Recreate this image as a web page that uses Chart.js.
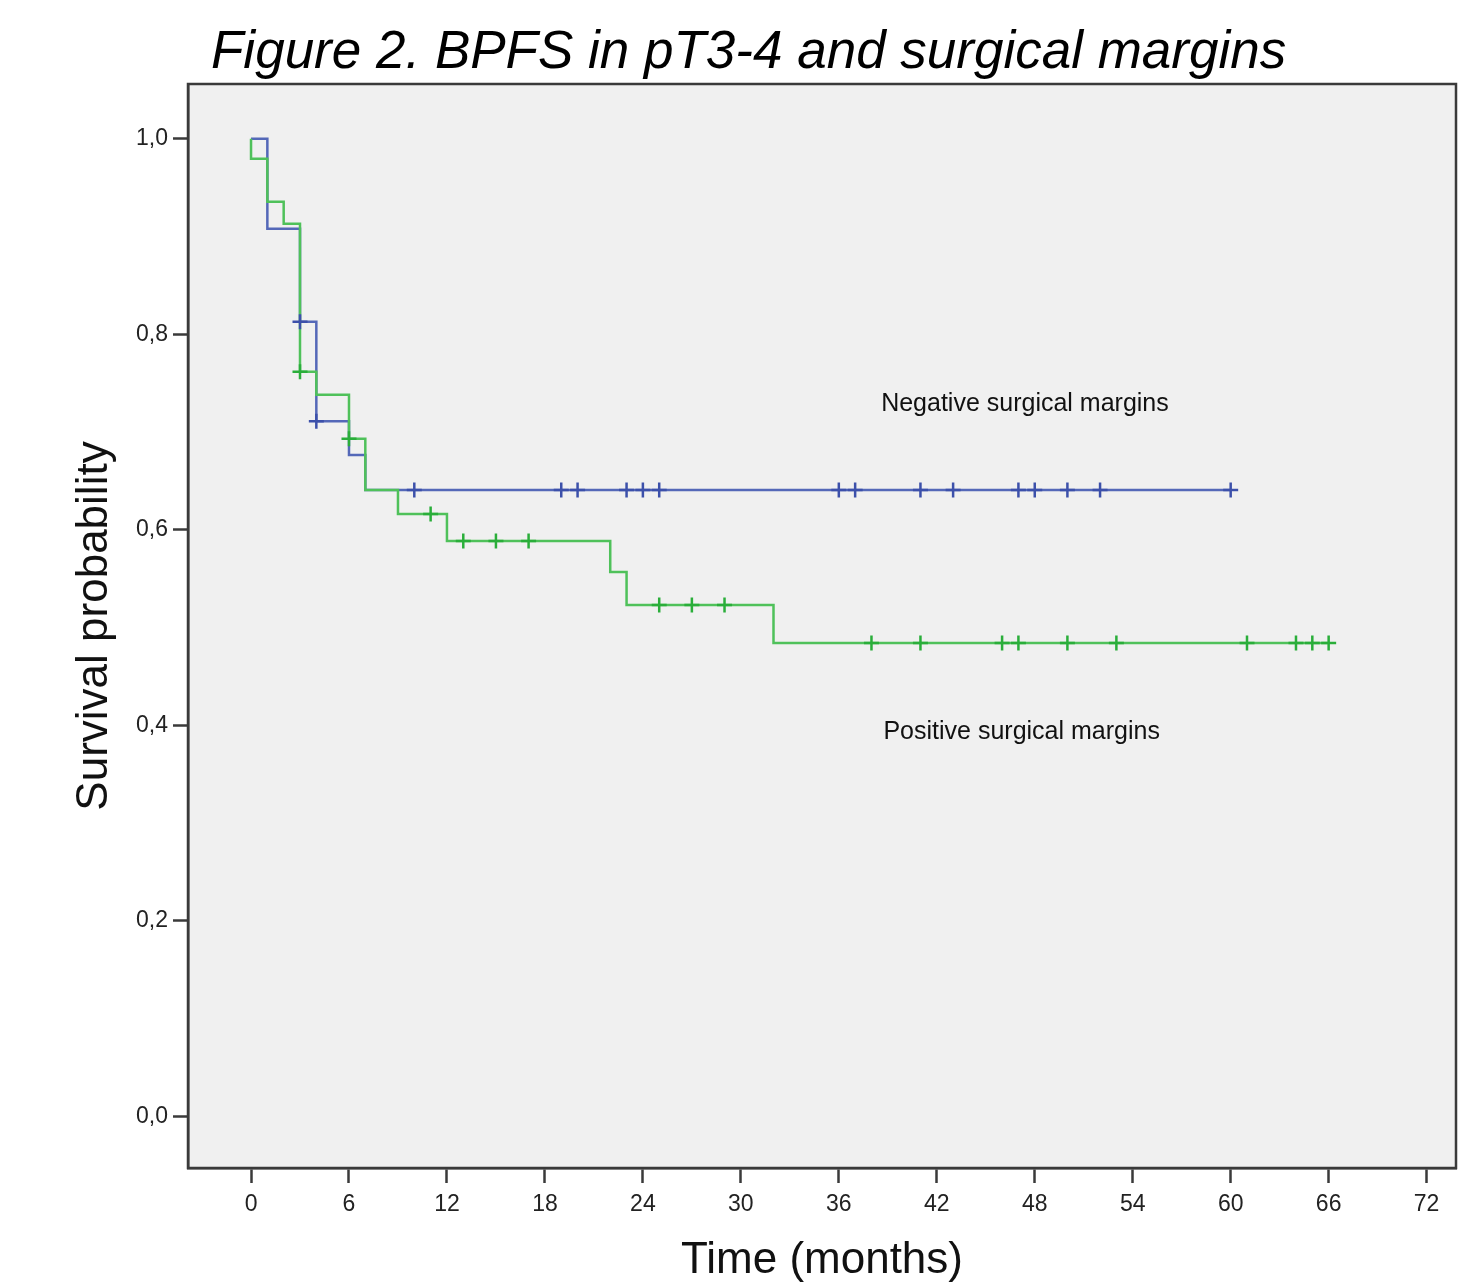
<!DOCTYPE html>
<html>
<head>
<meta charset="utf-8">
<title>Figure 2. BPFS in pT3-4 and surgical margins</title>
<script src="https://cdn.jsdelivr.net/npm/chart.js@4.4.1/dist/chart.umd.min.js"></script>
<style>
  body { margin: 0; background: #fff; }
  canvas { display: block; }
</style>
</head>
<body>
<canvas id="chart1" width="1484" height="1287"></canvas>
<script>
// Kaplan-Meier steps (time in months, survival after the drop)
var negTimes = [0, 1, 3, 4, 6, 7, 60];
var negSurv = [1.0, 0.908, 0.8127, 0.711, 0.6765, 0.6407, 0.6407];
var negCensored = [3, 4, 10, 19, 20, 23, 24, 25, 36, 37, 41, 43, 47, 48, 50, 52, 60];

var posTimes = [0, 0, 1, 2, 3, 4, 6, 7, 9, 12, 22, 23, 32, 66];
var posSurv = [1.0, 0.9795, 0.9355, 0.913, 0.7615, 0.738, 0.693, 0.6407, 0.6162, 0.5885, 0.5568, 0.523, 0.484, 0.484];
var posCensored = [3, 6, 11, 13, 15, 17, 25, 27, 29, 38, 41, 46, 47, 50, 53, 61, 64, 65, 66];

var xTicks = [0, 6, 12, 18, 24, 30, 36, 42, 48, 54, 60, 66, 72];
var yTicks = [0, 0.2, 0.4, 0.6, 0.8, 1.0];

var seriesNames = ["Negative surgical margins", "Positive surgical margins"];

var FONT = '"Liberation Sans", Arial, sans-serif';

function stepPoints(times, surv) {
  return times.map(function (t, i) { return { x: t, y: surv[i] }; });
}

// survival value at time t (right-continuous)
function survAt(times, surv, t) {
  var s = surv[0];
  for (var i = 0; i < times.length; i++) {
    if (times[i] <= t) s = surv[i];
  }
  return s;
}

function censorPoints(cens, times, surv) {
  return cens.map(function (t) { return { x: t, y: survAt(times, surv, t) }; });
}

var frame = {
  id: "frame",
  beforeDraw: function (chart) {
    var c = chart.ctx, a = chart.chartArea;
    c.save();
    c.fillStyle = "#ffffff";
    c.fillRect(0, 0, chart.width, chart.height);
    c.fillStyle = "#f0f0f0";
    c.fillRect(a.left, a.top, a.right - a.left, a.bottom - a.top);
    c.restore();
  },
  afterDraw: function (chart) {
    var c = chart.ctx, a = chart.chartArea;
    var xs = chart.scales.x, ys = chart.scales.y;
    c.save();
    c.strokeStyle = "#3a3a3a";
    c.lineWidth = 2.5;
    c.strokeRect(a.left, a.top, a.right - a.left, a.bottom - a.top);

    c.fillStyle = "#000";
    c.font = "italic 53px " + FONT;
    c.textBaseline = "alphabetic";
    c.fillText("Figure 2. BPFS in pT3-4 and surgical margins", 211, 68);

    c.fillStyle = "#111";
    c.font = "25px " + FONT;
    c.textAlign = "center";
    c.textBaseline = "middle";
    c.fillText(seriesNames[0], xs.getPixelForValue(47.4), ys.getPixelForValue(0.728));
    c.fillText(seriesNames[1], xs.getPixelForValue(47.2), ys.getPixelForValue(0.393));
    c.restore();
  }
};

var ctx = document.getElementById("chart1").getContext("2d");

var myChart = new Chart(ctx, {
  type: "line",
  data: {
    datasets: [
      {
        label: seriesNames[1] + " censored",
        type: "scatter",
        data: censorPoints(posCensored, posTimes, posSurv),
        pointStyle: "cross",
        pointRadius: 7.5,
        pointBorderWidth: 2.5,
        borderColor: "#2aae3a",
        backgroundColor: "#2aae3a",
        order: 0,
      },
      {
        label: seriesNames[0] + " censored",
        type: "scatter",
        data: censorPoints(negCensored, negTimes, negSurv),
        pointStyle: "cross",
        pointRadius: 7.5,
        pointBorderWidth: 2.5,
        borderColor: "#3c50aa",
        backgroundColor: "#3c50aa",
        order: 1,
      },
      {
        label: seriesNames[1],
        data: stepPoints(posTimes, posSurv),
        stepped: "before",
        borderColor: "#4fc15a",
        borderWidth: 2.5,
        pointRadius: 0,
        fill: false,
        order: 2,
      },
      {
        label: seriesNames[0],
        data: stepPoints(negTimes, negSurv),
        stepped: "before",
        borderColor: "#5468b8",
        borderWidth: 2.5,
        pointRadius: 0,
        fill: false,
        order: 3,
      },
    ],
  },
  options: {
    responsive: false,
    animation: false,
    devicePixelRatio: 1,
    layout: {
      padding: { top: 84, right: 28, left: 0, bottom: 0 },
    },
    plugins: {
      legend: { display: false },
      tooltip: { enabled: false },
    },
    scales: {
      x: {
        type: "linear",
        min: -3.86,
        max: 73.8,
        afterBuildTicks: function (scale) {
          scale.ticks = xTicks.map(function (v) { return { value: v }; });
        },
        afterFit: function (scale) { scale.height = 119; },
        grid: {
          drawOnChartArea: false,
          drawTicks: true,
          tickLength: 15,
          tickWidth: 2.5,
          tickColor: "#3a3a3a",
        },
        border: { display: true, color: "#3a3a3a", width: 2.5 },
        ticks: {
          padding: 8,
          color: "#222",
          font: { family: FONT, size: 23 },
          maxRotation: 0,
        },
        title: {
          display: true,
          text: "Time (months)",
          color: "#111",
          font: { family: FONT, size: 44 },
          padding: { top: 0, bottom: 0 },
        },
      },
      y: {
        type: "linear",
        min: -0.053,
        max: 1.056,
        afterBuildTicks: function (scale) {
          scale.ticks = yTicks.map(function (v) { return { value: v }; });
        },
        afterFit: function (scale) { scale.width = 188; },
        grid: {
          drawOnChartArea: false,
          drawTicks: true,
          tickLength: 15,
          tickWidth: 2.5,
          tickColor: "#3a3a3a",
        },
        border: { display: true, color: "#3a3a3a", width: 2.5 },
        ticks: {
          padding: 5,
          color: "#222",
          font: { family: FONT, size: 23 },
          callback: function (value) {
            return Number(value).toFixed(1).replace(".", ",");
          },
        },
        title: {
          display: true,
          text: "Survival probability",
          color: "#111",
          font: { family: FONT, size: 44 },
          padding: { top: 68, bottom: 0 },
        },
      },
    },
  },
  plugins: [frame],
});
</script>
</body>
</html>
